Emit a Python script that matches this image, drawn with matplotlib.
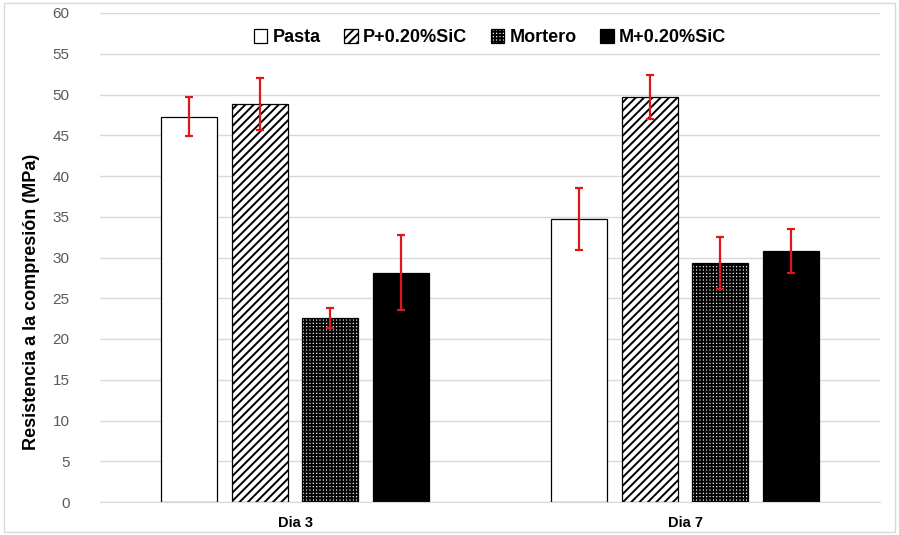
import numpy as np
import matplotlib
matplotlib.use("Agg")
import matplotlib.pyplot as plt
from matplotlib.patches import Rectangle

plt.rcParams['font.family'] = ['Liberation Sans', 'DejaVu Sans']
plt.rcParams['hatch.linewidth'] = 1.4

dias = ['Dia 3', 'Dia 7']
series = ['Pasta', 'P+0.20%SiC', 'Mortero', 'M+0.20%SiC']
valores = {
    'Pasta':      [47.3, 34.7],
    'P+0.20%SiC': [48.8, 49.7],
    'Mortero':    [22.6, 29.3],
    'M+0.20%SiC': [28.1, 30.8],
}
errores = {
    'Pasta':      [2.4, 3.8],
    'P+0.20%SiC': [3.2, 2.75],
    'Mortero':    [1.2, 3.2],
    'M+0.20%SiC': [4.6, 2.75],
}

estilos = {
    'Pasta':      dict(facecolor='white', hatch=None),
    'P+0.20%SiC': dict(facecolor='white', hatch='////'),
    'Mortero':    dict(facecolor='#e0e0e0', hatch='+++++'),
    'M+0.20%SiC': dict(facecolor='black', hatch=None),
}

fig = plt.figure(figsize=(8.99, 5.35), dpi=100)
ax = fig.add_axes([100 / 899, 1 - 502 / 535, 780 / 899, 489 / 535])

x = np.arange(len(dias))
ancho = 0.143
paso = 0.181
for i, s in enumerate(series):
    pos = x + (i - 1.5) * paso
    ax.bar(pos, valores[s], ancho, edgecolor='black', linewidth=0.9,
           label=s, zorder=2, **estilos[s])
    ax.errorbar(pos, valores[s], yerr=errores[s], fmt='none', ecolor='#e0161b',
                elinewidth=1.6, capsize=3, capthick=1.6, zorder=3)

ax.set_xlim(-0.5, 1.5)
ax.set_ylim(0, 60)
ax.set_yticks(np.arange(0, 61, 5))
ax.set_xticks(x)
ax.set_xticklabels(dias, fontsize=10.5, fontweight='bold', color='black')
ax.tick_params(axis='y', length=0, labelsize=11, labelcolor='#595959', pad=22)
ax.tick_params(axis='x', length=0, pad=10)
ax.grid(axis='y', color='#d9d9d9', linewidth=1, zorder=0)
ax.set_axisbelow(True)
for sp in ['top', 'right', 'left']:
    ax.spines[sp].set_visible(False)
ax.spines['bottom'].set_color('#d9d9d9')

ax.set_ylabel('Resistencia a la compresión (MPa)', fontsize=13,
              fontweight='bold')
ax.yaxis.set_label_coords(-0.077, 0.41)

ax.legend(loc='upper center', bbox_to_anchor=(0.5, 1.0), ncol=4, frameon=False,
          prop=dict(weight='bold', size=13), handlelength=0.75, handleheight=0.75,
          handletextpad=0.3, columnspacing=1.3, borderaxespad=0.5)

# thin border around the whole figure
fig.patches.append(Rectangle((0.004, 0.006), 0.992, 0.988, transform=fig.transFigure,
                             fill=False, edgecolor='#d9d9d9', linewidth=1))

fig.savefig('out.png', dpi=100)
